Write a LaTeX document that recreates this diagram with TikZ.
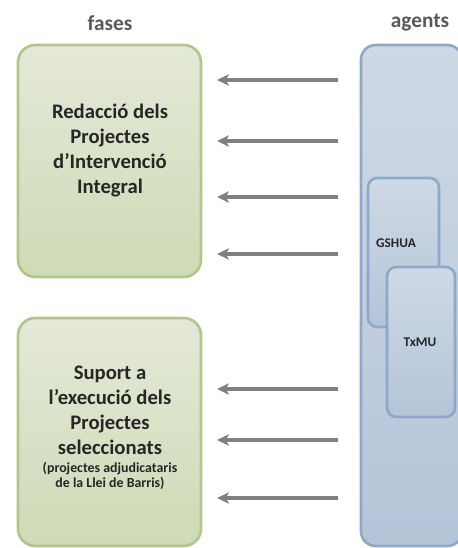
\documentclass[tikz,border=0pt]{standalone}
\usepackage{fontspec}
\setmainfont{Carlito}
\usetikzlibrary{arrows.meta}

\definecolor{voraverda}{RGB}{178,198,136}
\definecolor{verdclar}{RGB}{228,233,216}
\definecolor{verdfosc}{RGB}{207,218,182}
\definecolor{vorablava}{RGB}{142,168,201}
\definecolor{blauclar}{RGB}{207,217,229}
\definecolor{blaufosc}{RGB}{180,196,216}
\definecolor{grisfletxa}{RGB}{128,128,128}
\definecolor{gristitol}{RGB}{89,89,89}
\definecolor{gristext}{RGB}{38,38,38}

\tikzset{
  capsafase/.style={draw=voraverda, line width=2pt, rounded corners=13pt, top color=verdclar, bottom color=verdfosc},
  capsagent/.style={draw=vorablava, line width=2pt, rounded corners=11pt, top color=blauclar, bottom color=blaufosc},
  capsapetita/.style={draw=vorablava, line width=2pt, rounded corners=7pt, top color=blauclar, bottom color=blaufosc},
  fletxa/.style={draw=grisfletxa, line width=2.4pt, -{Stealth[length=9pt,width=8.5pt,inset=2.5pt]}},
  titol/.style={font=\fontsize{16}{19}\selectfont\bfseries, text=gristitol, inner sep=0.75pt},
  textfase/.style={font=\fontsize{15.5}{18.75}\selectfont\bfseries, text=gristext, align=center, inner sep=0.75pt},
  textnota/.style={font=\fontsize{10.4}{11.4}\selectfont\bfseries, text=gristext, align=center, inner sep=0.75pt},
  textagent/.style={font=\fontsize{10}{12}\selectfont\bfseries, text=gristext, inner sep=0.75pt}
}

\begin{document}
\begin{tikzpicture}[x=0.75pt,y=0.75pt,yscale=-1,xscale=1]
\useasboundingbox (0,0) rectangle (457,548);

%Rounded Rect fase 1
\draw [capsafase] (18,45) rectangle (201,277);
%Rounded Rect fase 2
\draw [capsafase] (18,318) rectangle (201,546);
%Rounded Rect agents
\draw [capsagent] (361,45) rectangle (462,546);
%Rounded Rect GSHUA
\draw [capsapetita] (368,178) rectangle (439,327);
%Rounded Rect TxMU
\draw [capsapetita] (387,267) rectangle (455,417);

%Straight Lines
\foreach \y [count=\i] in {80,141,197,254,389,440,498} {
  \coordinate (ini\i) at (338,\y);
  \coordinate (fi\i) at (217,\y);
  \draw [fletxa] (ini\i) -- (fi\i);
}

% Text Node
\node [titol] (tfases) at (110,23) {fases};
% Text Node
\node [titol] (tagents) at (420,23) {agents};
% Text Node
\node [textfase] (fase1) at (110,151) {Redacció dels\\Projectes\\d’Intervenció\\Integral};
% Text Node
\node [textfase] (fase2) at (110,410) {Suport a\\l’execució dels\\Projectes\\seleccionats};
% Text Node
\node [textnota] (nota2) at (110,476) {(projectes adjudicataris\\de la Llei de Barris)};
% Text Node
\node [textagent] (gshua) at (396,243) {GSHUA};
% Text Node
\node [textagent] (txmu) at (420,342) {TxMU};

\end{tikzpicture}
\end{document}
